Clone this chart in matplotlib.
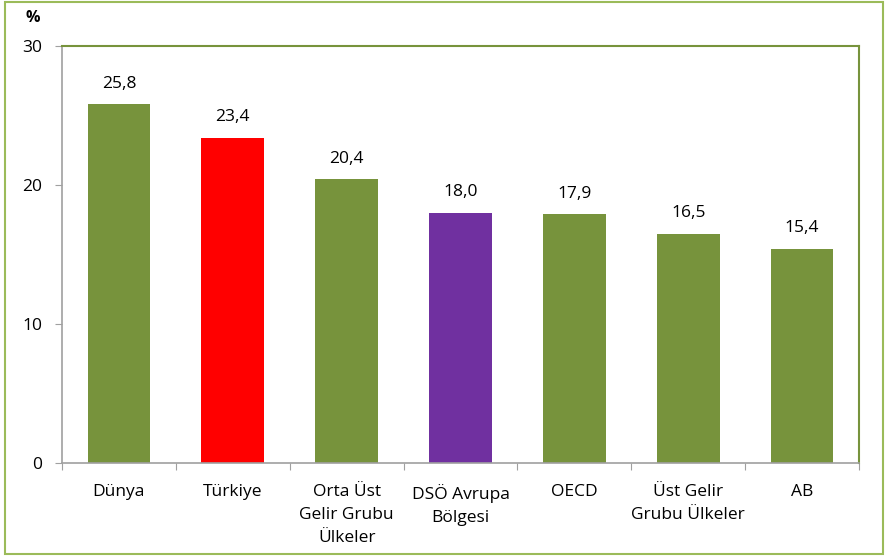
import matplotlib.pyplot as plt
from matplotlib.patches import Rectangle

categories = ["Dünya", "Türkiye", "Orta Üst\nGelir Grubu\nÜlkeler", "DSÖ Avrupa\nBölgesi",
              "OECD", "Üst Gelir\nGrubu Ülkeler", "AB"]
values = [25.8, 23.4, 20.4, 18.0, 17.9, 16.5, 15.4]
colors = ["#77933C", "#FF0000", "#77933C", "#7030A0", "#77933C", "#77933C", "#77933C"]
yticks = [0, 10, 20, 30]

plt.rcParams['font.family'] = ['Open Sans', 'DejaVu Sans']
fs = 12.5

fig = plt.figure(figsize=(8.85, 5.56), dpi=100)
ax = fig.add_axes([62 / 885, 1 - 463 / 556, (859 - 62) / 885, (463 - 46) / 556])

x = list(range(len(categories)))
ax.bar(x, values, width=0.55, color=colors, zorder=2)
for xi, v in zip(x, values):
    ax.text(xi, v + 0.9, f"{v:.1f}".replace(".", ","), ha="center", va="bottom", fontsize=fs)

ax.set_xlim(-0.5, len(categories) - 0.5)
ax.set_ylim(0, 30)
ax.set_yticks(yticks)
ax.set_yticklabels([str(t) for t in yticks], fontsize=fs)
ax.set_xticks([i - 0.5 for i in range(len(categories) + 1)], minor=False)
ax.set_xticklabels([])
ax.set_xticks(x, minor=True)
ax.set_xticklabels(categories, minor=True, fontsize=fs, linespacing=1.6)
ax.tick_params(axis="x", which="minor", length=0, pad=15)
ax.tick_params(axis="x", which="major", length=5, color="#A0A0A0", direction="out")
ax.tick_params(axis="y", length=5, color="#A0A0A0", direction="out", pad=9)

for side in ["left", "bottom"]:
    ax.spines[side].set_color("#A0A0A0")
    ax.spines[side].set_linewidth(1.2)
for side in ["top", "right"]:
    ax.spines[side].set_color("#77933C")
    ax.spines[side].set_linewidth(1.5)

fig.text(26 / 885, 1 - 18 / 556, "%", fontsize=fs - 1, fontweight="bold", ha="left", va="center")

fig.patches.append(Rectangle((5 / 885, 2 / 556), 878 / 885, 552 / 556, transform=fig.transFigure,
                             fill=False, edgecolor="#9BBB59", linewidth=1.5))

fig.savefig("out.png", dpi=100)
